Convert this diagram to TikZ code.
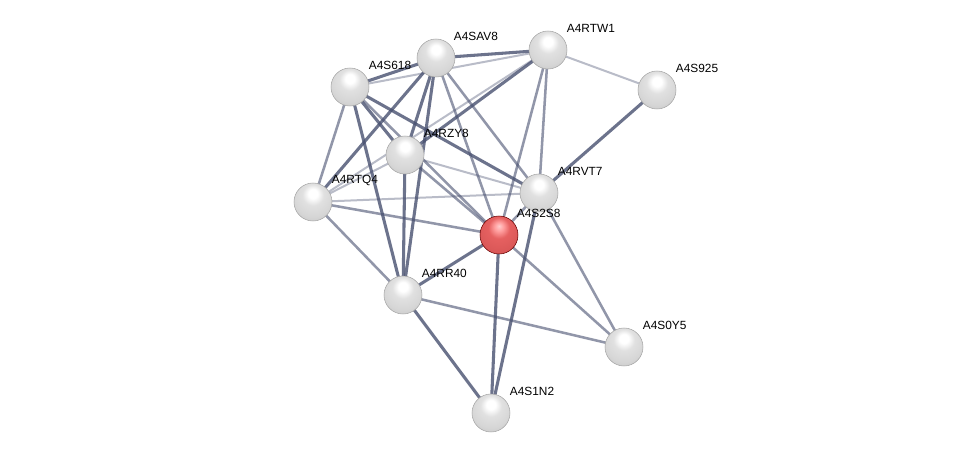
\documentclass[tikz,border=0pt]{standalone}
\usepackage{fontspec}
\setmainfont{Liberation Sans}
\usetikzlibrary{calc}
\pgfdeclareradialshading{gball}{\pgfpoint{0bp}{12bp}}{color(0bp)=(white); color(6bp)=(white); color(14bp)=(white!88!black); color(26bp)=(white!84!black); color(36bp)=(white!78!black); color(44bp)=(white!68!black); color(52bp)=(white!52!black); color(64bp)=(white!40!black)}
\pgfdeclareradialshading{rball}{\pgfpoint{0bp}{12bp}}{color(0bp)=(white!80!red); color(6bp)=(white!62!red); color(14bp)=(white!42!red!90!black); color(30bp)=(white!40!red!85!black); color(44bp)=(white!30!red!80!black); color(52bp)=(red!55!black); color(64bp)=(red!40!black)}
\begin{document}
\begin{tikzpicture}[x=0.75pt,y=-0.75pt,
  prot/.style={circle,minimum size=28.5pt,inner sep=0pt,shading=gball,draw=black!35,line width=0.4pt},
  seed/.style={prot,shading=rball,draw=red!40!black},
  lab/.style={anchor=west,font=\fontsize{8.9pt}{10pt}\selectfont,text=black,inner sep=0.5pt},
  ethick/.style={draw={rgb,255:red,72;green,80;blue,112},line width=2.3pt,opacity=0.8},
  emed/.style={draw={rgb,255:red,72;green,80;blue,112},line width=1.9pt,opacity=0.6},
  elight/.style={draw={rgb,255:red,72;green,80;blue,112},line width=1.5pt,opacity=0.38}]
\fill[white] (0,0) rectangle (976,459);
\useasboundingbox (0,0) rectangle (976,459);
% node positions
\coordinate (SAV8) at (436,58);
\coordinate (RTW1) at (548,50);
\coordinate (S618) at (350,87);
\coordinate (S925) at (657,90);
\coordinate (RZY8) at (405,155);
\coordinate (RTQ4) at (313,202);
\coordinate (RVT7) at (539,193);
\coordinate (S2S8) at (499,235);
\coordinate (RR40) at (403,295);
\coordinate (S0Y5) at (624,347);
\coordinate (S1N2) at (491,413);
% light edges
\draw[elight] (RTW1) -- (S925);
\draw[elight] (S618) -- (RTW1);
\draw[elight] (RTW1) -- (RTQ4);
\draw[elight] (RZY8) -- (RTQ4);
\draw[elight] (RZY8) -- (RVT7);
\draw[elight] (RTQ4) -- (RVT7);
% medium edges
\draw[emed] (SAV8) -- (RVT7);
\draw[emed] (SAV8) -- (S2S8);
\draw[emed] (RTW1) -- (RVT7);
\draw[emed] (RTW1) -- (S2S8);
\draw[emed] (S618) -- (RTQ4);
\draw[emed] (S618) -- (S2S8);
\draw[emed] (RZY8) -- (S2S8);
\draw[emed] (RTQ4) -- (S2S8);
\draw[emed] (RTQ4) -- (RR40);
\draw[emed] (RR40) -- (S0Y5);
\draw[emed] (S2S8) -- (S0Y5);
\draw[emed] (RVT7) -- (S0Y5);
\draw[emed] (RVT7) -- (S2S8);
% thick edges
\draw[ethick] (SAV8) -- (RTW1);
\draw[ethick] (S618) -- (SAV8);
\draw[ethick] (SAV8) -- (RZY8);
\draw[ethick] (SAV8) -- (RR40);
\draw[ethick] (SAV8) -- (RTQ4);
\draw[ethick] (RTW1) -- (RZY8);
\draw[ethick] (S618) -- (RR40);
\draw[ethick] (S618) -- (RVT7);
\draw[ethick] (S618) -- (RZY8);
\draw[ethick] (RZY8) -- (RR40);
\draw[ethick] (RR40) -- (S2S8);
\draw[ethick] (RR40) -- (S1N2);
\draw[ethick] (S2S8) -- (S1N2);
\draw[ethick] (RVT7) -- (S1N2);
\draw[ethick] (S925) -- (RVT7);
% nodes
\node[prot] (nSAV8) at (SAV8) {};
\node[prot] (nRTW1) at (RTW1) {};
\node[prot] (nS618) at (S618) {};
\node[prot] (nS925) at (S925) {};
\node[prot] (nRZY8) at (RZY8) {};
\node[prot] (nRTQ4) at (RTQ4) {};
\node[prot] (nRVT7) at (RVT7) {};
\node[seed] (nS2S8) at (S2S8) {};
\node[prot] (nRR40) at (RR40) {};
\node[prot] (nS0Y5) at (S0Y5) {};
\node[prot] (nS1N2) at (S1N2) {};
% labels
\node[lab] (lSAV8) at ($(SAV8)+(17,-22)$) {A4SAV8};
\node[lab] (lRTW1) at ($(RTW1)+(18,-22)$) {A4RTW1};
\node[lab] (lS618) at ($(S618)+(18,-22)$) {A4S618};
\node[lab] (lS925) at ($(S925)+(18,-22)$) {A4S925};
\node[lab] (lRZY8) at ($(RZY8)+(18,-22)$) {A4RZY8};
\node[lab] (lRTQ4) at ($(RTQ4)+(18,-22)$) {A4RTQ4};
\node[lab] (lRVT7) at ($(RVT7)+(18,-22)$) {A4RVT7};
\node[lab] (lS2S8) at ($(S2S8)+(17,-22)$) {A4S2S8};
\node[lab] (lRR40) at ($(RR40)+(18,-22)$) {A4RR40};
\node[lab] (lS0Y5) at ($(S0Y5)+(18,-22)$) {A4S0Y5};
\node[lab] (lS1N2) at ($(S1N2)+(18,-22)$) {A4S1N2};
\end{tikzpicture}
\end{document}
